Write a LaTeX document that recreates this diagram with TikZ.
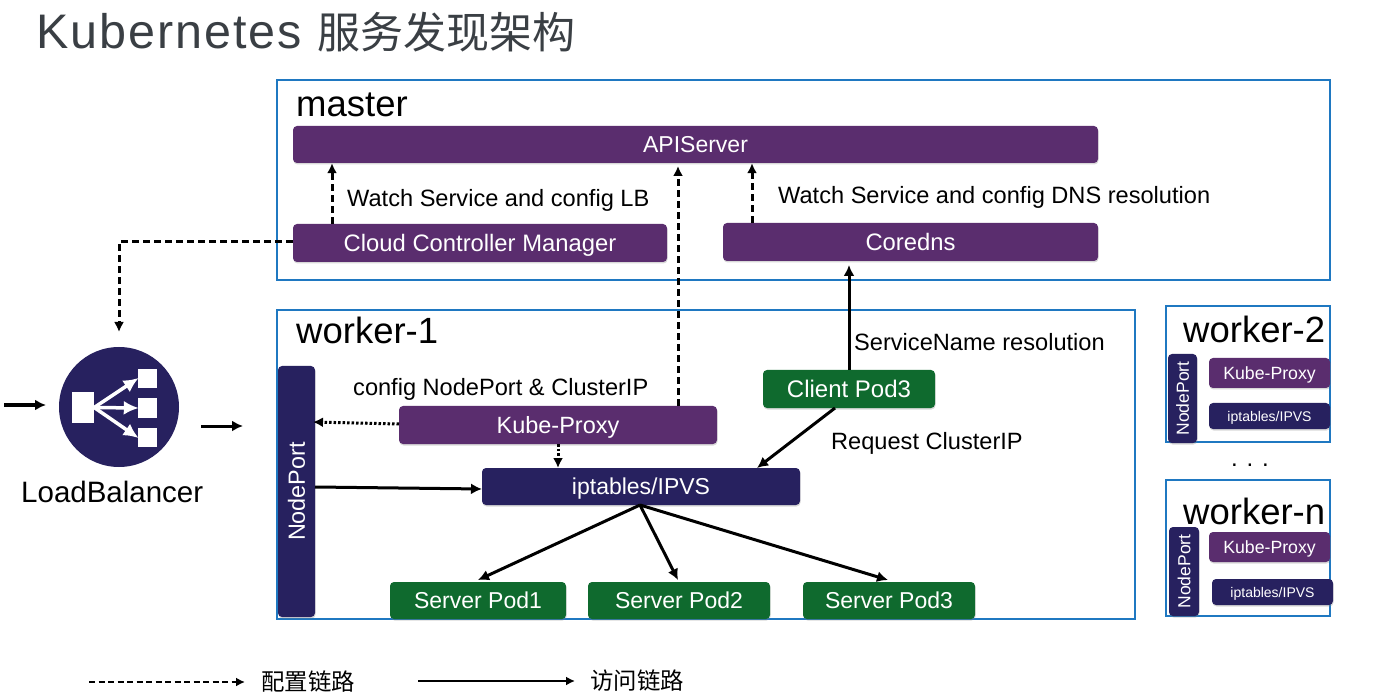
\documentclass[tikz,border=0pt]{standalone}
\usepackage{fontspec}
\setmainfont{Liberation Sans}
\newfontfamily\cjk{Noto Sans CJK SC}
\usetikzlibrary{arrows.meta, shadows}
\definecolor{framecol}{HTML}{1F78C1}
\definecolor{purplecol}{HTML}{5A2D6E}
\definecolor{navycol}{HTML}{27215F}
\definecolor{greencol}{HTML}{0F6A2E}
\definecolor{titlecol}{HTML}{3A3F44}
\newcommand{\fsz}[1]{\fontsize{#1}{#1}\selectfont}

\begin{document}
\begin{tikzpicture}[
            x=1pt, y=-1pt,
            frame/.style={draw=framecol, line width=1.2pt},
            nodebox/.style={rounded corners=4pt, text=white, inner sep=0pt, font=\fsz{#1},
                text height=.72*#1 pt, text depth=0pt,
                drop shadow={opacity=.3, shadow xshift=.5pt, shadow yshift=-1.5pt}},
            nodebox/.default=23.8,
            purplebox/.style={nodebox=#1, fill=purplecol},
            purplebox/.default=23.8,
            navybox/.style={nodebox=#1, fill=navycol},
            navybox/.default=23.4,
            podbox/.style={nodebox=#1, fill=greencol},
            podbox/.default=23,
            heading/.style={anchor=west, inner sep=0pt, font=\fsz{#1}, text height=.72*#1 pt, text depth=0pt},
            heading/.default=36.5,
            label/.style={heading=23.6},
            solidline/.style={-{Latex[length=11pt, width=11pt]}, line width=3pt},
            dashline/.style={-{Latex[length=10pt, width=10pt]}, line width=3pt, dash pattern=on 7pt off 4pt},
            dotline/.style={-{Latex[length=10pt, width=10pt]}, line width=3pt, dash pattern=on 2.5pt off 2pt}
        ]
        \useasboundingbox (0,0) rectangle (1376,692);
        \fill[white] (0,0) rectangle (1376,692);

        \node[heading=48.5, text=titlecol] (title) at (36,31)
            {\addfontfeature{LetterSpace=4}Kubernetes {\cjk\fsz{43}服务发现架构}};

        % frames
        \draw[frame] (277,80) rectangle (1330,280);
        \draw[frame] (277,310) rectangle (1135,619);
        \draw[frame] (1166,306) rectangle (1330,442);
        \draw[frame] (1166,480) rectangle (1330,616);
        \node[heading] (masterText) at (296,103) {master};
        \node[heading] (workerOneText) at (296,330) {worker-1};
        \node[heading] (workerTwoText) at (1183,329) {worker-2};
        \node[heading] (workerNText) at (1183,511) {worker-n};
        \node[inner sep=0pt, font=\fsz{24}] (dotsText) at (1250,465) {. . .};

        % master
        \node[purplebox=23, minimum width=805pt, minimum height=37pt] (api) at (695.5,144.5) {APIServer};
        \node[purplebox, minimum width=374pt, minimum height=38pt] (ccm) at (480,243) {Cloud Controller Manager};
        \node[purplebox, minimum width=375pt, minimum height=38pt] (dns) at (910.5,242) {Coredns};

        % worker-1
        \node[navybox, rotate=90, minimum width=251pt, minimum height=37pt] (nodeport) at (296.5,491.5) {NodePort};
        \node[purplebox=23.5, minimum width=318pt, minimum height=38pt] (proxy) at (558,425) {Kube-Proxy};
        \node[navybox=23, minimum width=318pt, minimum height=37pt] (ipvs) at (641,486.5) {iptables/IPVS};
        \node[podbox=24, minimum width=172pt, minimum height=38pt] (client) at (849,389) {Client Pod3};
        \node[podbox, minimum width=176pt, minimum height=37pt] (podOne) at (478,600.5) {Server Pod1};
        \node[podbox, minimum width=182pt, minimum height=37pt] (podTwo) at (679,600.5) {Server Pod2};
        \node[podbox, minimum width=172pt, minimum height=37pt] (podThree) at (889,600.5) {Server Pod3};

        % worker-2 and worker-n
        \node[navybox=17.5, rotate=90, minimum width=89pt, minimum height=29pt] (nodeportTwo) at (1182.5,398.5) {NodePort};
        \node[purplebox=17.7, minimum width=121pt, minimum height=30pt] (proxyTwo) at (1269.5,373) {Kube-Proxy};
        \node[navybox=14, minimum width=121pt, minimum height=26pt] (ipvsTwo) at (1269.5,416) {iptables/IPVS};
        \node[navybox=17.5, rotate=90, minimum width=89pt, minimum height=30pt] (nodeportN) at (1184,571.5) {NodePort};
        \node[purplebox=17.7, minimum width=121pt, minimum height=30pt] (proxyN) at (1269.5,547) {Kube-Proxy};
        \node[navybox=14, minimum width=121pt, minimum height=26pt] (ipvsN) at (1272.5,592) {iptables/IPVS};

        % load balancer
        \node[circle, fill=navycol, minimum size=120pt, inner sep=0pt] (lb) at (119,407) {};
        \node[fill=white, minimum width=22pt, minimum height=31pt, inner sep=0pt] (lbIn) at (83,407.5) {};
        \node[fill=white, minimum width=19pt, minimum height=19pt, inner sep=0pt] (lbOutOne) at (147.5,378.5) {};
        \node[fill=white, minimum width=19pt, minimum height=19pt, inner sep=0pt] (lbOutTwo) at (147.5,408) {};
        \node[fill=white, minimum width=19pt, minimum height=19pt, inner sep=0pt] (lbOutThree) at (147.5,437.5) {};
        \foreach \target in {lbOutOne, lbOutTwo, lbOutThree}
            \draw[-{Latex[length=15pt, width=14pt]}, white, line width=3.5pt, shorten >=-1pt] (lbIn.east) -- (\target.west);
        \node[heading=29.5] (lbText) at (21,492) {LoadBalancer};

        % free ends
        \coordinate (inStart) at (4,405);
        \coordinate (inEnd) at (46,405);
        \coordinate (outStart) at (201,426);
        \coordinate (outEnd) at (243,426);
        \coordinate (ccmTurn) at (119,242);
        \coordinate (lbTop) at (119,332);
        \coordinate (ccmUp) at (332,224);
        \coordinate (proxyUp) at (678,406);
        \coordinate (dnsUp) at (752,223);
        \coordinate (clientUp) at (849,370);
        \coordinate (legendA) at (89,682);
        \coordinate (legendB) at (245,682);
        \coordinate (legendC) at (418,681);
        \coordinate (legendD) at (575,681);

        % connectors
        \draw[solidline] (inStart) -- (inEnd);
        \draw[solidline] (outStart) -- (outEnd);
        \draw[dashline] (ccm.west |- ccmTurn) -- (ccmTurn) -- (lbTop);
        \draw[dashline] (ccmUp) -- (ccmUp |- api.south);
        \draw[dashline] (proxyUp) -- (678,166);
        \draw[dashline] (dnsUp) -- (dnsUp |- api.south);
        \draw[solidline] (clientUp) -- (849,265);
        \draw[dotline] (399,424) -- (313,422);
        \draw[dotline] (558,444) -- (558,468);
        \draw[solidline] (315,487) -- (482,489);
        \draw[solidline] (835,408) -- (757,468);
        \draw[solidline] (640,505) -- (478,580);
        \draw[solidline] (640,505) -- (678,580);
        \draw[solidline] (640,505) -- (888,580);

        \node[label] (watchLb) at (347,198) {Watch Service and config LB};
        \node[label] (watchDns) at (778,195) {Watch Service and config DNS resolution};
        \node[label] (resolveText) at (854,342) {ServiceName resolution};
        \node[label] (configText) at (353,387) {config NodePort \& ClusterIP};
        \node[label] (requestText) at (831,441) {Request ClusterIP};

        % legend
        \draw[-{Latex[length=9pt, width=9pt]}, line width=2.5pt, dash pattern=on 6pt off 3.5pt] (legendA) -- (legendB);
        \draw[-{Latex[length=9pt, width=9pt]}, line width=2.5pt] (legendC) -- (legendD);
        \node[heading=23.4] (legendDash) at (261,682) {\cjk 配置链路};
        \node[heading=23.4] (legendSolid) at (590,681) {\cjk 访问链路};
    \end{tikzpicture}
\end{document}
